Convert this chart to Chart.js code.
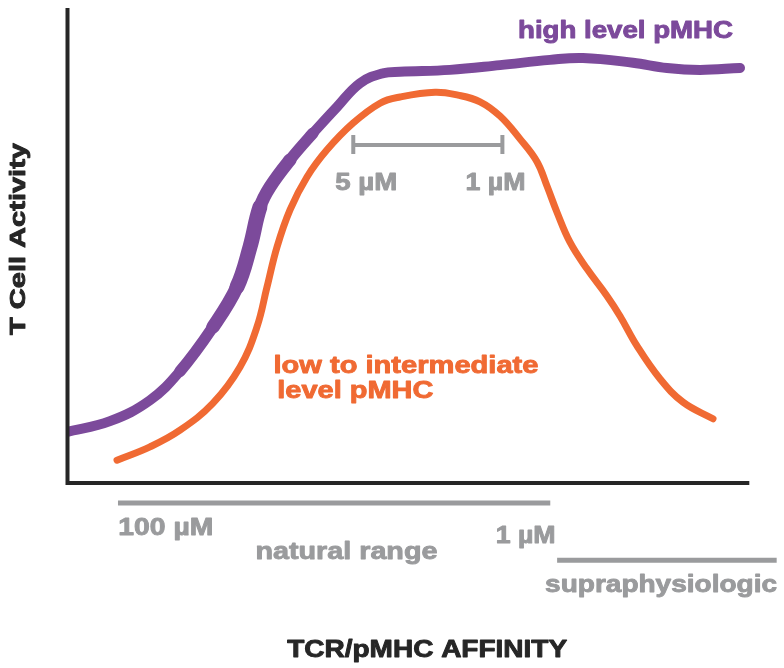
<!DOCTYPE html>
<html>
<head>
<meta charset="utf-8">
<script src="https://cdn.jsdelivr.net/npm/chart.js@4"></script>
<style>
  body { margin: 0; background: #fff; }
  #wrap { width: 784px; height: 668px; }
</style>
</head>
<body>
<div id="wrap"><canvas id="affinityChart"></canvas></div>
<script>
// TCR/pMHC affinity (relative units, left to right = weaker to stronger)
const highAffinity = [0, 6.43, 12.28, 16.67, 21.49, 25.0, 26.9, 28.36, 29.82, 32.75, 36.11, 39.62, 42.98, 46.35, 48.83, 56.14, 63.45, 70.76, 75.58, 82.89, 87.87, 92.69, 98.54];
const highActivity = [10.9, 13.2, 17.6, 23.7, 33.0, 41.4, 49.8, 58.2, 62.4, 68.1, 73.7, 79.2, 84.2, 86.3, 86.6, 87.0, 88.0, 89.1, 89.5, 88.5, 87.4, 87.0, 87.4];

const lowAffinity = [7.46, 12.28, 16.67, 21.49, 25.44, 27.92, 29.39, 30.85, 32.75, 35.23, 38.16, 41.96, 45.91, 48.83, 53.95, 57.31, 60.53, 63.45, 66.37, 68.86, 70.32, 71.78, 73.68, 76.17, 79.09, 80.99, 83.48, 86.84, 90.2, 94.59];
const lowActivity = [5.0, 7.8, 11.3, 17.0, 24.6, 33.0, 41.4, 49.8, 57.6, 64.5, 70.2, 75.8, 80.0, 81.3, 82.3, 81.7, 80.3, 77.3, 72.5, 67.7, 62.6, 57.1, 50.8, 45.2, 39.5, 35.3, 29.0, 22.1, 17.2, 13.7];

const PURPLE = "#7c4a9b";
const ORANGE = "#f06a33";
const GRAY = "#9a9b9d";
const DARK = "#262626";

// text labels, positioned in chart units (x, baseline y) with a target width in px
const labels = [
  { text: "high level pMHC", x: 81.8, y: 93.7, w: 215, size: 23, color: PURPLE },
  { text: "5 \u00b5M", x: 43.9, y: 61.8, w: 62, size: 24, color: GRAY },
  { text: "1 \u00b5M", x: 62.8, y: 61.8, w: 60, size: 24, color: GRAY },
  { text: "low to intermediate", x: 49.7, y: 23.3, w: 265, size: 24, color: ORANGE },
  { text: "level pMHC", x: 42.3, y: 18.1, w: 156, size: 24, color: ORANGE },
  { text: "100 \u00b5M", x: 14.6, y: -10.7, w: 95, size: 24, color: GRAY },
  { text: "1 \u00b5M", x: 67.2, y: -12.4, w: 60, size: 24, color: GRAY },
  { text: "natural range", x: 41.0, y: -15.8, w: 182, size: 24, color: GRAY },
  { text: "supraphysiologic", x: 87.0, y: -22.7, w: 232, size: 24, color: GRAY },
  { text: "TCR/pMHC AFFINITY", x: 52.8, y: -36.3, w: 280, size: 24, color: DARK },
];

// gray range bars: [x start, x end, y]
const rangeBars = [
  [7.6, 70.8, -4.0],
  [71.8, 103.9, -16.0],
];
const bracket = [42.0, 63.8, 71.2];

function toPoints(xs, ys) {
  return xs.map((x, i) => ({ x: x, y: ys[i] }));
}

function fitText(ctx, text, x, y, w, size, color, rot) {
  ctx.save();
  ctx.font = "bold " + size + "px 'Liberation Sans', Arial, sans-serif";
  const m = ctx.measureText(text).width;
  ctx.translate(x, y);
  if (rot) ctx.rotate(rot);
  ctx.scale(w / m, 1);
  ctx.textAlign = "center";
  ctx.textBaseline = "alphabetic";
  ctx.fillStyle = color;
  ctx.strokeStyle = color;
  ctx.lineWidth = 0.9;
  ctx.lineJoin = "round";
  ctx.fillText(text, 0, 0);
  ctx.strokeText(text, 0, 0);
  ctx.restore();
}

// purple brush stroke gets heavier on the steep rise
function purpleWidth(c) {
  const x = c.p0.parsed.x;
  if (x >= 16 && x < 21) return 11.5;
  if (x >= 21 && x < 25) return 13.5;
  if (x >= 25 && x < 28) return 15;
  if (x >= 28 && x < 30) return 13;
  if (x >= 30 && x < 33) return 11.5;
  return 10;
}

const annotations = {
  id: "annotations",
  afterDraw(chart) {
    const ctx = chart.ctx;
    const xs = chart.scales.x;
    const ys = chart.scales.y;
    const X = (v) => xs.getPixelForValue(v);
    const Y = (v) => ys.getPixelForValue(v);

    // axes
    ctx.save();
    ctx.strokeStyle = DARK;
    ctx.lineWidth = 4;
    ctx.lineCap = "butt";
    ctx.beginPath();
    ctx.moveTo(X(0) + 1.5, Y(100));
    ctx.lineTo(X(0) + 1.5, Y(0) - 1);
    ctx.lineTo(X(99.9), Y(0) - 1);
    ctx.stroke();

    // range bars
    ctx.strokeStyle = GRAY;
    ctx.lineWidth = 5;
    rangeBars.forEach((b) => {
      ctx.beginPath();
      ctx.moveTo(X(b[0]), Y(b[2]));
      ctx.lineTo(X(b[1]), Y(b[2]));
      ctx.stroke();
    });

    // 5 uM - 1 uM bracket
    ctx.lineWidth = 4;
    ctx.beginPath();
    ctx.moveTo(X(bracket[0]), Y(bracket[2]));
    ctx.lineTo(X(bracket[1]), Y(bracket[2]));
    ctx.moveTo(X(bracket[0]), Y(bracket[2]) - 10);
    ctx.lineTo(X(bracket[0]), Y(bracket[2]) + 9);
    ctx.moveTo(X(bracket[1]), Y(bracket[2]) - 10);
    ctx.lineTo(X(bracket[1]), Y(bracket[2]) + 9);
    ctx.stroke();
    ctx.restore();

    labels.forEach((l) => fitText(ctx, l.text, X(l.x), Y(l.y), l.w, l.size, l.color));
    fitText(ctx, "T Cell Activity", 25, (Y(100) + Y(0)) / 2 - 7, 192, 22, DARK, -Math.PI / 2);
  },
};

const ctx = document.getElementById("affinityChart").getContext("2d");
const affinityChart = new Chart(ctx, {
  type: "line",
  data: {
    datasets: [
      {
        label: "high level pMHC",
        data: toPoints(highAffinity, highActivity),
        borderColor: PURPLE,
        borderWidth: 10,
        borderCapStyle: "round",
        borderJoinStyle: "round",
        pointRadius: 0,
        tension: 0.4,
        fill: false,
        segment: { borderWidth: purpleWidth },
      },
      {
        label: "low to intermediate level pMHC",
        data: toPoints(lowAffinity, lowActivity),
        borderColor: ORANGE,
        borderWidth: 7,
        borderCapStyle: "round",
        borderJoinStyle: "round",
        pointRadius: 0,
        tension: 0.4,
        fill: false,
      },
    ],
  },
  options: {
    responsive: true,
    maintainAspectRatio: false,
    animation: false,
    layout: { padding: { left: 66, right: 34, top: 8, bottom: 184 } },
    plugins: { legend: { display: false }, tooltip: { enabled: false } },
    scales: {
      x: { type: "linear", min: 0, max: 100, display: false },
      y: { min: 0, max: 100, display: false },
    },
  },
  plugins: [annotations],
});
</script>
</body>
</html>
